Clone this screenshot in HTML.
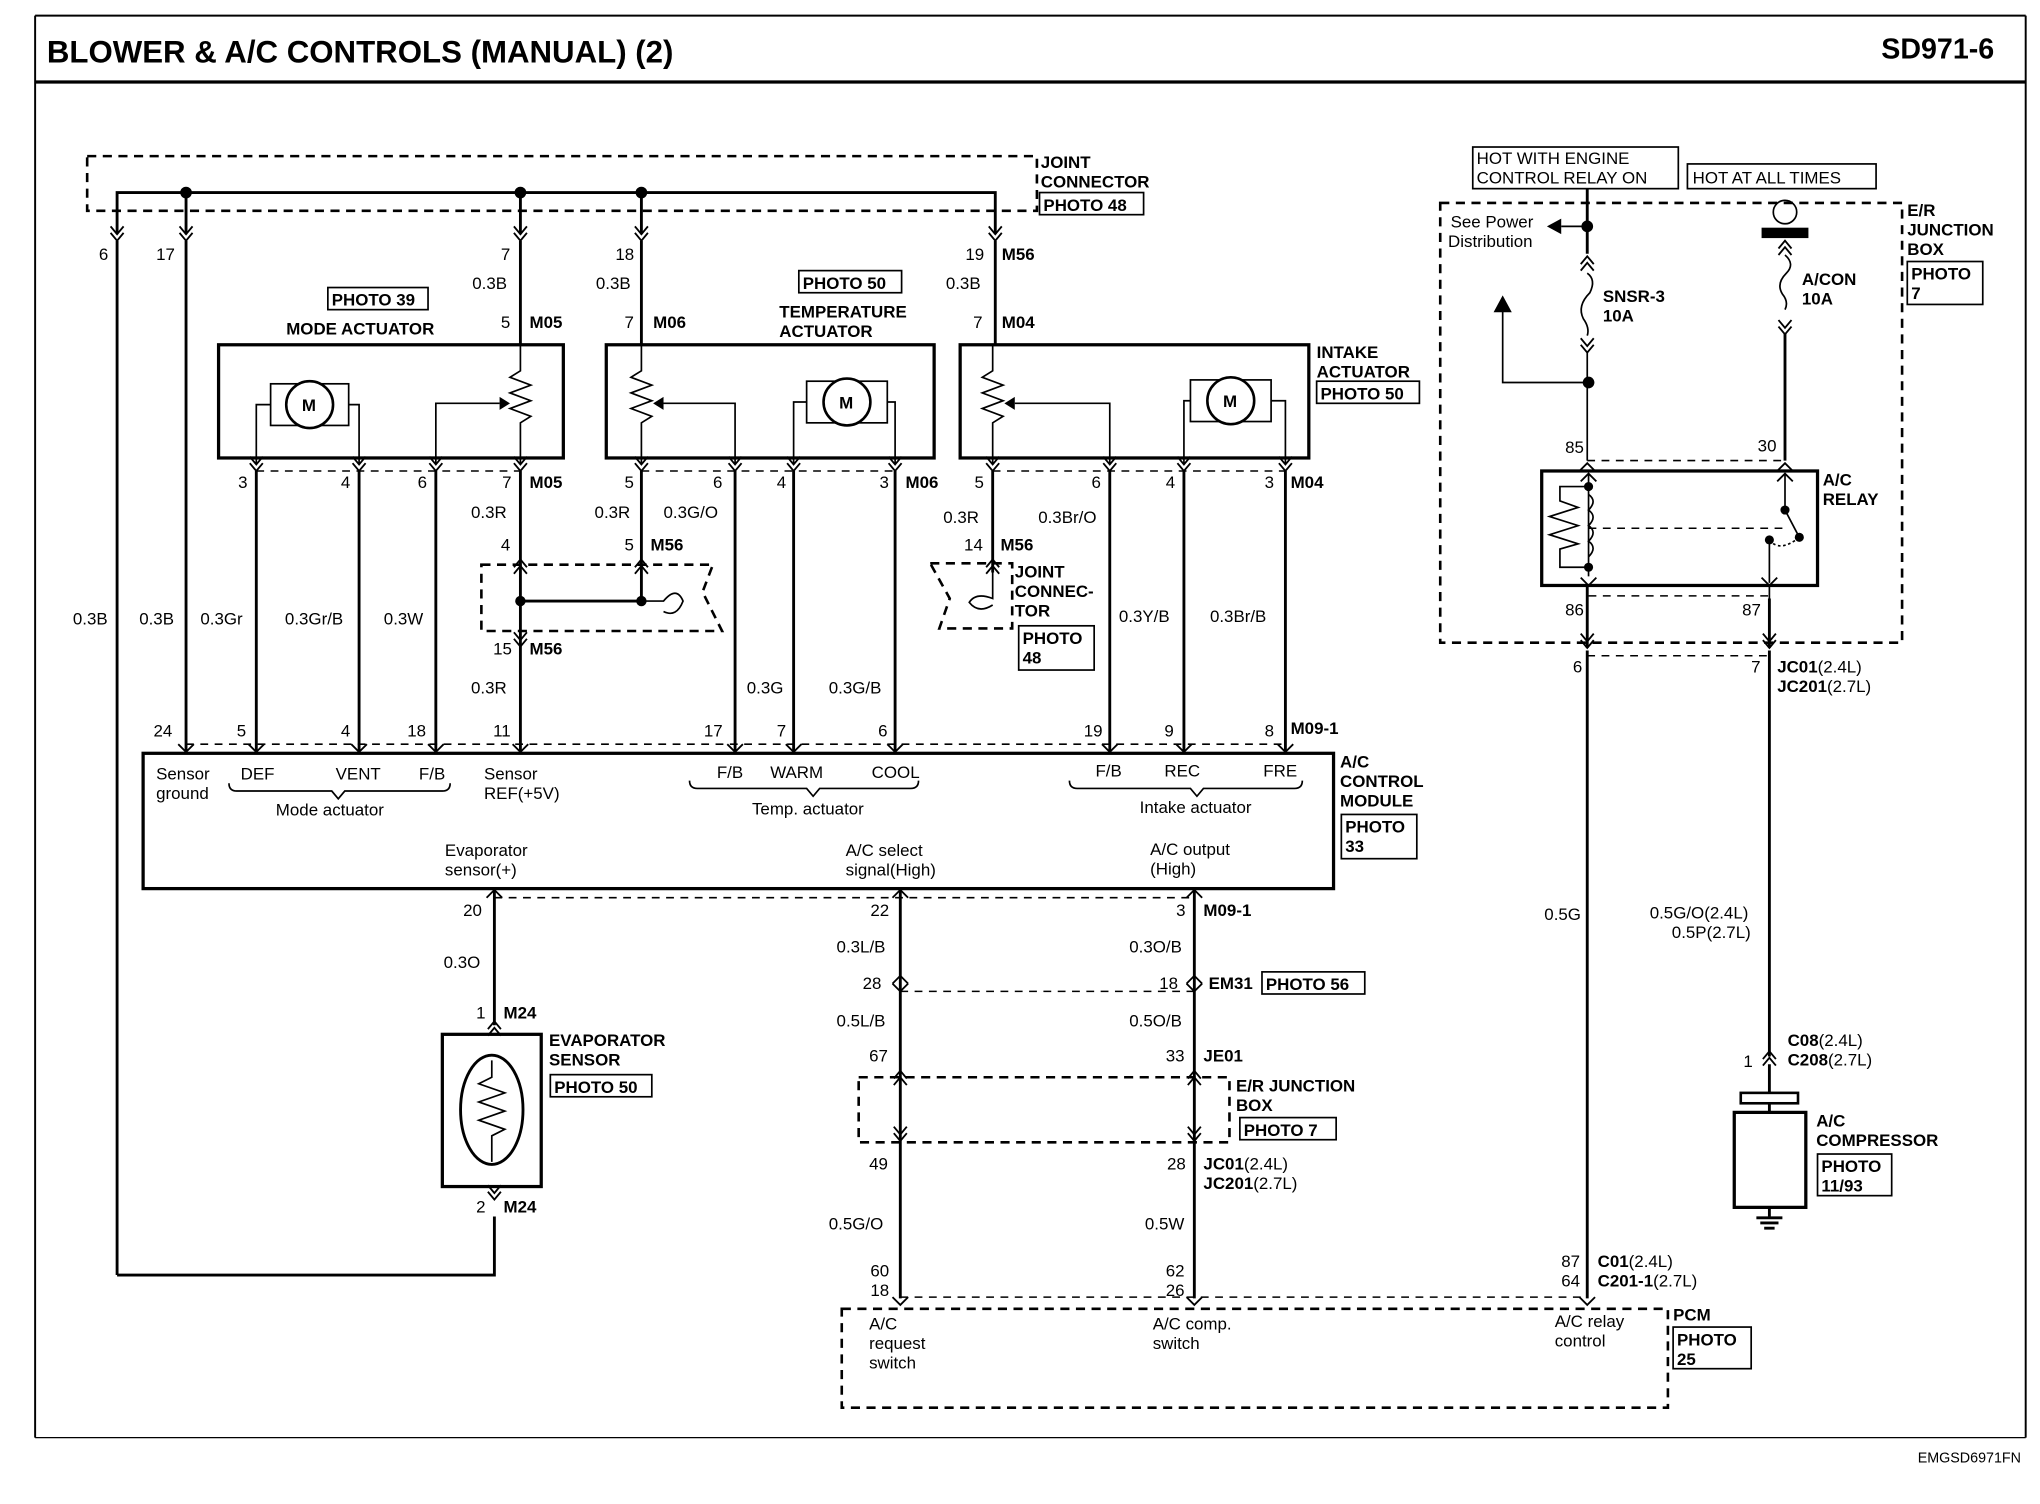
<!DOCTYPE html>
<html><head><meta charset="utf-8"><style>
html,body{margin:0;padding:0;background:#fff}
svg{display:block}
text{font-family:"Liberation Sans",Arial,sans-serif;font-size:13px;fill:#000}
.b{font-weight:bold}
.w{stroke:#000;stroke-width:2.2;fill:none}
.t{stroke:#000;stroke-width:1.3;fill:none}
.d{stroke:#000;stroke-width:2;fill:none;stroke-dasharray:7 5}
.dt{stroke:#000;stroke-width:1.2;fill:none;stroke-dasharray:6 5}
.bx{stroke:#000;stroke-width:2.5;fill:none}
</style></head><body>
<svg width="2040" height="1504" viewBox="0 0 1568 1156" preserveAspectRatio="none" xmlns="http://www.w3.org/2000/svg">
<defs>
<path id="v" d="M-5,-6 L0,0 L5,-6 M-5,-1 L0,5 L5,-1" stroke="#000" stroke-width="1.4" fill="none"/>
<path id="u" d="M-5,6 L0,0 L5,6 M-5,11 L0,5 L5,11" stroke="#000" stroke-width="1.4" fill="none"/>
<path id="v1" d="M-6,-6 L0,0 L6,-6" stroke="#000" stroke-width="1.4" fill="none"/>
<path id="u1" d="M-6,6 L0,0 L6,6" stroke="#000" stroke-width="1.4" fill="none"/>
</defs>
<!-- frame -->
<line x1="27" y1="12" x2="1557" y2="12" stroke="#000" stroke-width="1.5"/>
<line x1="27" y1="63" x2="1557" y2="63" stroke="#000" stroke-width="2.5"/>
<line x1="27" y1="12" x2="27" y2="1105" stroke="#000" stroke-width="1.5"/>
<line x1="1557" y1="12" x2="1557" y2="1105" stroke="#000" stroke-width="1.5"/>
<line x1="27" y1="1105" x2="1557" y2="1105" stroke="#000" stroke-width="1"/>
<text x="36" y="48" class="b" style="font-size:24px">BLOWER &amp; A/C CONTROLS (MANUAL) (2)</text>
<text x="1446" y="45" class="b" style="font-size:22px">SD971-6</text>
<text x="1474" y="1124" style="font-size:11px">EMGSD6971FN</text>

<!-- joint connector top -->
<rect x="67" y="120" width="730" height="42" class="d"/>
<text x="800" y="129" class="b">JOINT</text><text x="800" y="144" class="b">CONNECTOR</text>
<rect x="799" y="148" width="80" height="17" class="t"/><text x="802" y="162" class="b">PHOTO 48</text>
<polyline points="90,180 90,148 765,148 765,180" class="w"/>
<line x1="143" y1="148" x2="143" y2="180" class="w"/>
<line x1="400" y1="148" x2="400" y2="180" class="w"/>
<line x1="493" y1="148" x2="493" y2="180" class="w"/>
<circle cx="143" cy="148" r="4.5"/><circle cx="400" cy="148" r="4.5"/><circle cx="493" cy="148" r="4.5"/>
<use href="#v" x="90" y="180"/><use href="#v" x="143" y="180"/><use href="#v" x="400" y="180"/><use href="#v" x="493" y="180"/><use href="#v" x="765" y="180"/>
<text x="76" y="200">6</text><text x="120" y="200">17</text><text x="385" y="200">7</text><text x="473" y="200">18</text><text x="742" y="200">19</text><text x="770" y="200" class="b">M56</text>
<line x1="90" y1="185" x2="90" y2="980" class="w"/>
<polyline points="90,980 380,980 380,935" class="w"/>
<line x1="143" y1="185" x2="143" y2="578" class="w"/>
<line x1="400" y1="185" x2="400" y2="265" class="w"/>
<line x1="493" y1="185" x2="493" y2="265" class="w"/>
<line x1="765" y1="185" x2="765" y2="265" class="w"/>
<text x="363" y="222">0.3B</text><text x="458" y="222">0.3B</text><text x="727" y="222">0.3B</text>
<text x="385" y="252">5</text><text x="407" y="252" class="b">M05</text>
<text x="480" y="252">7</text><text x="502" y="252" class="b">M06</text>
<text x="748" y="252">7</text><text x="770" y="252" class="b">M04</text>
<rect x="252" y="221" width="77" height="17" class="t"/><text x="255" y="235" class="b">PHOTO 39</text>
<text x="220" y="257" class="b">MODE ACTUATOR</text>
<rect x="614" y="208" width="79" height="17" class="t"/><text x="617" y="222" class="b">PHOTO 50</text>
<text x="599" y="244" class="b">TEMPERATURE</text><text x="599" y="259" class="b">ACTUATOR</text>
<text x="1012" y="275" class="b">INTAKE</text><text x="1012" y="290" class="b">ACTUATOR</text>
<rect x="1012" y="293" width="79" height="17" class="t"/><text x="1015" y="307" class="b">PHOTO 50</text>

<!-- actuator boxes -->
<rect x="168" y="265" width="265" height="87" class="bx"/>
<rect x="466" y="265" width="252" height="87" class="bx"/>
<rect x="738" y="265" width="268" height="87" class="bx"/>
<!-- mode motor -->
<rect x="208" y="295" width="60" height="32" class="t"/><circle cx="238" cy="311" r="18" fill="#fff" stroke="#000" stroke-width="2"/><text x="232" y="316" class="b">M</text>
<polyline points="208,311 197,311 197,357" class="t"/><polyline points="268,311 276,311 276,357" class="t"/>
<path d="M400,265 L400,285 L392,290 L408,296 L392,302 L408,308 L392,314 L408,320 L400,325 L400,357" class="t"/>
<polyline points="335,357 335,310 384,310" class="t"/><path d="M384,305 L392,310 L384,315Z"/>
<!-- temp -->
<path d="M493,265 L493,285 L485,290 L501,296 L485,302 L501,308 L485,314 L501,320 L493,325 L493,357" class="t"/>
<polyline points="565,357 565,310 510,310" class="t"/><path d="M510,305 L502,310 L510,315Z"/>
<rect x="620" y="293" width="62" height="32" class="t"/><circle cx="651" cy="309" r="18" fill="#fff" stroke="#000" stroke-width="2"/><text x="645" y="314" class="b">M</text>
<polyline points="620,309 610,309 610,357" class="t"/><polyline points="682,309 688,309 688,357" class="t"/>
<!-- intake -->
<path d="M763,265 L763,285 L755,290 L771,296 L755,302 L771,308 L755,314 L771,320 L763,325 L763,357" class="t"/>
<polyline points="853,357 853,310 780,310" class="t"/><path d="M780,305 L772,310 L780,315Z"/>
<rect x="915" y="292" width="62" height="32" class="t"/><circle cx="946" cy="308" r="18" fill="#fff" stroke="#000" stroke-width="2"/><text x="940" y="313" class="b">M</text>
<polyline points="915,308 910,308 910,357" class="t"/><polyline points="977,308 988,308 988,357" class="t"/>
<!-- bottom pins of actuators -->
<line x1="197" y1="362" x2="400" y2="362" class="dt"/><line x1="493" y1="362" x2="688" y2="362" class="dt"/><line x1="763" y1="362" x2="988" y2="362" class="dt"/>
<g id="bp">
<use href="#v" x="197" y="357"/><use href="#v" x="276" y="357"/><use href="#v" x="335" y="357"/><use href="#v" x="400" y="357"/>
<use href="#v" x="493" y="357"/><use href="#v" x="565" y="357"/><use href="#v" x="610" y="357"/><use href="#v" x="688" y="357"/>
<use href="#v" x="763" y="357"/><use href="#v" x="853" y="357"/><use href="#v" x="910" y="357"/><use href="#v" x="988" y="357"/>
</g>
<text x="183" y="375">3</text><text x="262" y="375">4</text><text x="321" y="375">6</text><text x="386" y="375">7</text><text x="407" y="375" class="b">M05</text>
<text x="480" y="375">5</text><text x="548" y="375">6</text><text x="597" y="375">4</text><text x="676" y="375">3</text><text x="696" y="375" class="b">M06</text>
<text x="749" y="375">5</text><text x="839" y="375">6</text><text x="896" y="375">4</text><text x="972" y="375">3</text><text x="992" y="375" class="b">M04</text>
<g class="w">
<line x1="197" y1="362" x2="197" y2="578"/><line x1="276" y1="362" x2="276" y2="578"/><line x1="335" y1="362" x2="335" y2="578"/>
<line x1="400" y1="362" x2="400" y2="578"/><line x1="493" y1="362" x2="493" y2="462"/>
<line x1="565" y1="362" x2="565" y2="578"/><line x1="610" y1="362" x2="610" y2="578"/><line x1="688" y1="362" x2="688" y2="578"/>
<line x1="763" y1="362" x2="763" y2="440"/><line x1="853" y1="362" x2="853" y2="578"/><line x1="910" y1="362" x2="910" y2="578"/><line x1="988" y1="362" x2="988" y2="578"/>
</g>
<text x="362" y="398">0.3R</text><text x="457" y="398">0.3R</text><text x="510" y="398">0.3G/O</text>
<text x="725" y="402">0.3R</text><text x="798" y="402">0.3Br/O</text>
<text x="385" y="423">4</text><text x="480" y="423">5</text><text x="500" y="423" class="b">M56</text>
<text x="741" y="423">14</text><text x="769" y="423" class="b">M56</text>
<!-- joint box mid -->
<path d="M370,434 L548,434 L540,455 L555,485 L370,485 Z" class="d"/>
<use href="#u" x="400" y="430"/><use href="#u" x="493" y="430"/>
<line x1="400" y1="462" x2="493" y2="462" class="w"/><circle cx="400" cy="462" r="4"/><circle cx="493" cy="462" r="4"/>
<path d="M493,462 L510,462 Q520,450 525,462 Q520,475 510,470" class="t"/>
<use href="#v" x="400" y="492"/>
<text x="379" y="503">15</text><text x="407" y="503" class="b">M56</text>
<text x="362" y="533">0.3R</text>
<!-- small joint -->
<path d="M715,433 L778,433 L778,483 L722,483 L730,460 Z" class="d"/>
<use href="#u" x="763" y="430"/>
<path d="M763,440 L763,460 Q750,455 745,463 Q752,472 763,465" class="t"/>
<text x="780" y="444" class="b">JOINT</text><text x="780" y="459" class="b">CONNEC-</text><text x="780" y="474" class="b">TOR</text>
<rect x="783" y="481" width="58" height="34" class="t"/><text x="786" y="495" class="b">PHOTO</text><text x="786" y="510" class="b">48</text>

<text x="56" y="480">0.3B</text><text x="107" y="480">0.3B</text><text x="154" y="480">0.3Gr</text><text x="219" y="480">0.3Gr/B</text><text x="295" y="480">0.3W</text>
<text x="860" y="478">0.3Y/B</text><text x="930" y="478">0.3Br/B</text>
<text x="574" y="533">0.3G</text><text x="637" y="533">0.3G/B</text>
<!-- module pins -->
<text x="118" y="566">24</text><text x="182" y="566">5</text><text x="262" y="566">4</text><text x="313" y="566">18</text><text x="379" y="566">11</text>
<text x="541" y="566">17</text><text x="597" y="566">7</text><text x="675" y="566">6</text>
<text x="833" y="566">19</text><text x="895" y="566">9</text><text x="972" y="566">8</text><text x="992" y="564" class="b">M09-1</text>
<line x1="143" y1="572" x2="988" y2="572" class="dt"/>
<g>
<use href="#v1" x="143" y="578"/><use href="#v1" x="197" y="578"/><use href="#v1" x="276" y="578"/><use href="#v1" x="335" y="578"/><use href="#v1" x="400" y="578"/>
<use href="#v1" x="565" y="578"/><use href="#v1" x="610" y="578"/><use href="#v1" x="688" y="578"/>
<use href="#v1" x="853" y="578"/><use href="#v1" x="910" y="578"/><use href="#v1" x="988" y="578"/>
</g>
<rect x="110" y="579" width="915" height="104" class="bx"/>
<text x="1030" y="590" class="b">A/C</text><text x="1030" y="605" class="b">CONTROL</text><text x="1030" y="620" class="b">MODULE</text>
<rect x="1031" y="626" width="58" height="34" class="t"/><text x="1034" y="640" class="b">PHOTO</text><text x="1034" y="655" class="b">33</text>
<text x="120" y="599">Sensor</text><text x="120" y="614">ground</text>
<text x="185" y="599">DEF</text><text x="258" y="599">VENT</text><text x="322" y="599">F/B</text>
<text x="372" y="599">Sensor</text><text x="372" y="614">REF(+5V)</text>
<text x="551" y="598">F/B</text><text x="592" y="598">WARM</text><text x="670" y="598">COOL</text>
<text x="842" y="597">F/B</text><text x="895" y="597">REC</text><text x="971" y="597">FRE</text>
<path d="M176,602 Q176,608 182,608 L255,608 L260,614 L265,608 L340,608 Q346,608 346,602" class="t"/>
<text x="212" y="627">Mode actuator</text>
<path d="M530,600 Q530,606 536,606 L620,606 L625,612 L630,606 L700,606 Q706,606 706,600" class="t"/>
<text x="578" y="626">Temp. actuator</text>
<path d="M822,600 Q822,606 828,606 L915,606 L920,612 L925,606 L995,606 Q1001,606 1001,600" class="t"/>
<text x="876" y="625">Intake actuator</text>
<text x="342" y="658">Evaporator</text><text x="342" y="673">sensor(+)</text>
<text x="650" y="658">A/C select</text><text x="650" y="673">signal(High)</text>
<text x="884" y="657">A/C output</text><text x="884" y="672">(High)</text>
<!-- lower wires -->
<line x1="380" y1="690" x2="918" y2="690" class="dt"/>
<use href="#u1" x="380" y="684"/><use href="#u1" x="692" y="684"/><use href="#u1" x="918" y="684"/>
<text x="356" y="704">20</text><text x="669" y="704">22</text><text x="904" y="704">3</text><text x="925" y="704" class="b">M09-1</text>
<line x1="380" y1="684" x2="380" y2="788" class="w"/>
<text x="341" y="744">0.3O</text>
<text x="366" y="783">1</text><text x="387" y="783" class="b">M24</text>
<use href="#u" x="380" y="785"/>
<rect x="340" y="795" width="76" height="117" class="bx"/>
<text x="422" y="804" class="b">EVAPORATOR</text><text x="422" y="819" class="b">SENSOR</text>
<rect x="423" y="826" width="78" height="17" class="t"/><text x="426" y="840" class="b">PHOTO 50</text>
<ellipse cx="378" cy="853" rx="24" ry="42" class="w"/>
<path d="M378,815 L378,828 L368,833 L388,840 L368,847 L388,854 L368,861 L388,868 L378,873 L378,893" class="t"/>
<use href="#v" x="380" y="917"/>
<text x="366" y="932">2</text><text x="387" y="932" class="b">M24</text>
<line x1="692" y1="684" x2="692" y2="998" class="w"/>
<line x1="918" y1="684" x2="918" y2="998" class="w"/>
<text x="643" y="732">0.3L/B</text><text x="868" y="732">0.3O/B</text>
<use href="#u1" x="692" y="750"/><use href="#u1" x="918" y="750"/><use href="#v1" x="692" y="762"/><use href="#v1" x="918" y="762"/>
<line x1="692" y1="762" x2="918" y2="762" class="dt"/>
<text x="663" y="760">28</text><text x="891" y="760">18</text><text x="929" y="760" class="b">EM31</text>
<rect x="970" y="747" width="79" height="17" class="t"/><text x="973" y="761" class="b">PHOTO 56</text>
<text x="643" y="789">0.5L/B</text><text x="868" y="789">0.5O/B</text>
<text x="668" y="816">67</text><text x="896" y="816">33</text><text x="925" y="816" class="b">JE01</text>
<rect x="660" y="828" width="285" height="50" class="d"/>
<use href="#u" x="692" y="823"/><use href="#u" x="918" y="823"/><use href="#v" x="692" y="872"/><use href="#v" x="918" y="872"/>
<text x="950" y="839" class="b">E/R JUNCTION</text><text x="950" y="854" class="b">BOX</text>
<rect x="953" y="859" width="74" height="17" class="t"/><text x="956" y="873" class="b">PHOTO 7</text>
<text x="668" y="899">49</text><text x="897" y="899">28</text><text x="925" y="899" class="b">JC01<tspan style="font-weight:normal">(2.4L)</tspan></text>
<text x="925" y="914" class="b">JC201<tspan style="font-weight:normal">(2.7L)</tspan></text>
<text x="637" y="945">0.5G/O</text><text x="880" y="945">0.5W</text>
<text x="669" y="981">60</text><text x="669" y="996">18</text><text x="896" y="981">62</text><text x="896" y="996">26</text>
<line x1="692" y1="997" x2="1220" y2="997" class="dt"/>
<use href="#v1" x="692" y="1003"/><use href="#v1" x="918" y="1003"/><use href="#v1" x="1220" y="1003"/>
<rect x="647" y="1006" width="635" height="76" class="d"/>
<text x="668" y="1022">A/C</text><text x="668" y="1037">request</text><text x="668" y="1052">switch</text>
<text x="886" y="1022">A/C comp.</text><text x="886" y="1037">switch</text>
<text x="1195" y="1020">A/C relay</text><text x="1195" y="1035">control</text>
<text x="1286" y="1015" class="b">PCM</text>
<rect x="1286" y="1020" width="60" height="32" class="t"/><text x="1289" y="1034" class="b">PHOTO</text><text x="1289" y="1049" class="b">25</text>

<!-- right side -->
<rect x="1132" y="113" width="158" height="32" class="t"/><text x="1135" y="126">HOT WITH ENGINE</text><text x="1135" y="141">CONTROL RELAY ON</text>
<rect x="1297" y="126" width="145" height="19" class="t"/><text x="1301" y="141">HOT AT ALL TIMES</text>
<rect x="1107" y="156" width="355" height="338" class="d"/>
<text x="1466" y="166" class="b">E/R</text><text x="1466" y="181" class="b">JUNCTION</text><text x="1466" y="196" class="b">BOX</text>
<rect x="1466" y="201" width="58" height="33" class="t"/><text x="1469" y="215" class="b">PHOTO</text><text x="1469" y="230" class="b">7</text>
<text x="1115" y="175">See Power</text><text x="1113" y="190">Distribution</text>
<line x1="1220" y1="145" x2="1220" y2="195" class="w"/><circle cx="1220" cy="174" r="4.5"/>
<line x1="1220" y1="174" x2="1200" y2="174" class="t"/><path d="M1200,168 L1189,174 L1200,180Z"/>
<use href="#u" x="1220" y="197"/>
<path d="M1220,210 Q1227,215 1222,225 Q1212,235 1217,245 Q1222,252 1220,258" class="t"/>
<use href="#v" x="1220" y="266"/>
<text x="1232" y="232" class="b">SNSR-3</text><text x="1232" y="247" class="b">10A</text>
<line x1="1220" y1="270" x2="1220" y2="354" class="t"/>
<circle cx="1221" cy="294" r="4.5"/><polyline points="1221,294 1155,294 1155,238" class="t"/><path d="M1148,240 L1155,227 L1162,240Z"/>
<circle cx="1372" cy="163" r="9" class="t"/><rect x="1354" y="175" width="36" height="8"/>
<use href="#u" x="1372" y="185"/>
<path d="M1372,196 Q1380,203 1373,210 Q1365,218 1370,226 Q1375,232 1372,238" class="t"/>
<use href="#v" x="1372" y="252"/>
<text x="1385" y="219" class="b">A/CON</text><text x="1385" y="234" class="b">10A</text>
<line x1="1372" y1="256" x2="1372" y2="354" class="w"/>
<text x="1203" y="348">85</text><text x="1351" y="347">30</text>
<line x1="1220" y1="354" x2="1372" y2="354" class="dt"/>
<use href="#u1" x="1220" y="356"/><use href="#u1" x="1372" y="356"/>
<rect x="1185" y="362" width="212" height="88" class="bx"/>
<text x="1401" y="373" class="b">A/C</text><text x="1401" y="388" class="b">RELAY</text>
<use href="#u1" x="1221" y="364"/><use href="#u1" x="1372" y="364"/>
<line x1="1221" y1="364" x2="1221" y2="443" class="t"/>
<circle cx="1221" cy="374" r="3.5"/><circle cx="1221" cy="436" r="3.5"/>
<path d="M1221,374 L1199,374 L1199,385 L1213,390 L1191,397 L1213,404 L1191,411 L1213,418 L1199,422 L1199,436 L1221,436" class="t"/>
<path d="M1221,380 Q1228,385 1221,392 Q1228,397 1221,404 Q1228,409 1221,416 Q1228,421 1221,428" class="t"/>
<line x1="1221" y1="406" x2="1370" y2="406" class="dt"/>
<line x1="1372" y1="364" x2="1372" y2="392" class="t"/><circle cx="1372" cy="392" r="3.5"/>
<line x1="1372" y1="392" x2="1383" y2="413" class="t"/><circle cx="1383" cy="413" r="3.5"/>
<circle cx="1360" cy="415" r="3.5"/><path d="M1360,415 Q1368,425 1383,413" class="t" stroke-dasharray="2 2"/>
<line x1="1360" y1="415" x2="1360" y2="448" class="t"/>
<use href="#v1" x="1221" y="450"/><use href="#v1" x="1360" y="450"/>
<line x1="1220" y1="450" x2="1220" y2="498" class="w"/>
<polyline points="1360,450 1360,462" class="t"/>
<line x1="1221" y1="458" x2="1360" y2="458" class="dt"/>
<text x="1203" y="473">86</text><text x="1339" y="473">87</text>
<line x1="1360" y1="460" x2="1360" y2="498" class="w"/>
<use href="#v" x="1220" y="493"/><use href="#v" x="1360" y="493"/>
<line x1="1220" y1="504" x2="1360" y2="504" class="dt"/>
<text x="1209" y="517">6</text><text x="1346" y="517">7</text>
<text x="1366" y="517" class="b">JC01<tspan style="font-weight:normal">(2.4L)</tspan></text>
<text x="1366" y="532" class="b">JC201<tspan style="font-weight:normal">(2.7L)</tspan></text>
<line x1="1220" y1="500" x2="1220" y2="998" class="w"/>
<line x1="1360" y1="500" x2="1360" y2="812" class="w"/>
<text x="1187" y="707">0.5G</text>
<text x="1268" y="706">0.5G/O(2.4L)</text><text x="1285" y="721">0.5P(2.7L)</text>
<use href="#u" x="1360" y="808"/>
<text x="1340" y="820">1</text>
<text x="1374" y="804" class="b">C08<tspan style="font-weight:normal">(2.4L)</tspan></text>
<text x="1374" y="819" class="b">C208<tspan style="font-weight:normal">(2.7L)</tspan></text>
<line x1="1360" y1="818" x2="1360" y2="840" class="w"/>
<rect x="1338" y="840" width="44" height="8" fill="#fff" stroke="#000" stroke-width="2"/>
<rect x="1333" y="855" width="55" height="73" class="bx"/>
<line x1="1360" y1="848" x2="1360" y2="855" class="w"/>
<line x1="1360" y1="928" x2="1360" y2="935" class="w"/>
<line x1="1350" y1="936" x2="1370" y2="936" class="w"/><line x1="1353" y1="940" x2="1367" y2="940" class="w"/><line x1="1356" y1="944" x2="1364" y2="944" class="w"/>
<text x="1396" y="866" class="b">A/C</text><text x="1396" y="881" class="b">COMPRESSOR</text>
<rect x="1397" y="887" width="57" height="32" class="t"/><text x="1400" y="901" class="b">PHOTO</text><text x="1400" y="916" class="b">11/93</text>
<text x="1200" y="974">87</text><text x="1200" y="989">64</text>
<text x="1228" y="974" class="b">C01<tspan style="font-weight:normal">(2.4L)</tspan></text>
<text x="1228" y="989" class="b">C201-1<tspan style="font-weight:normal">(2.7L)</tspan></text>
</svg>
</body></html>
